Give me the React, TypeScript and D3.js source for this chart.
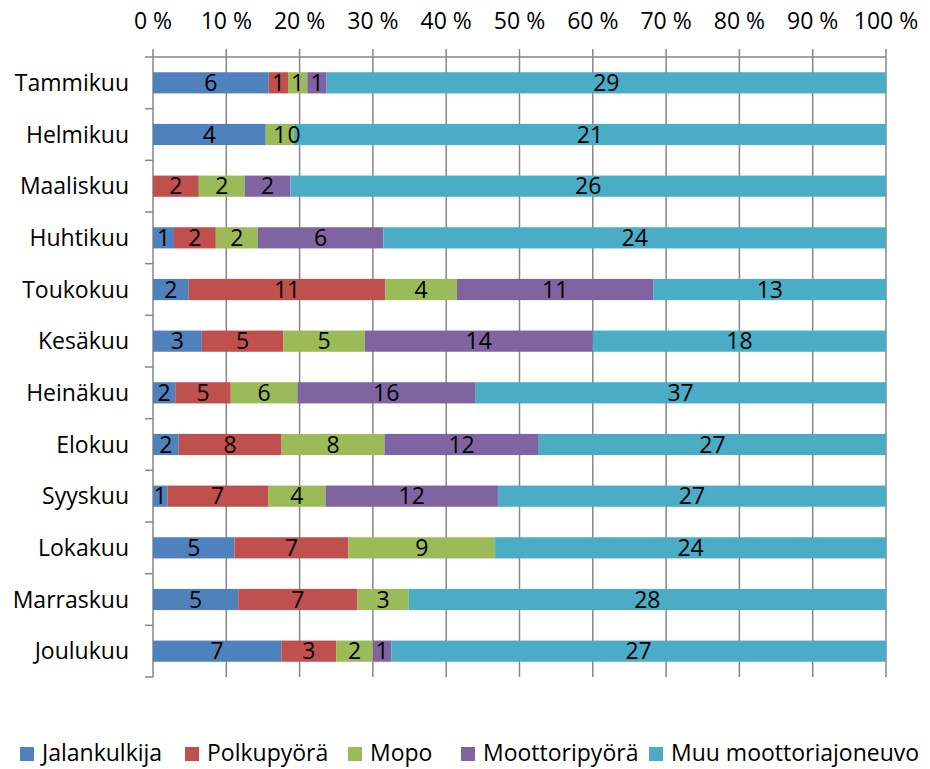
import React from "react";
import * as d3 from "d3";

const width = 930;
const height = 769;

const months = [
  "Tammikuu", "Helmikuu", "Maaliskuu", "Huhtikuu", "Toukokuu", "Kesäkuu",
  "Heinäkuu", "Elokuu", "Syyskuu", "Lokakuu", "Marraskuu", "Joulukuu",
];
const seriesNames = ["Jalankulkija", "Polkupyörä", "Mopo", "Moottoripyörä", "Muu moottoriajoneuvo"];
const colors = ["#4F81BD", "#C0504D", "#9BBB59", "#8064A2", "#4BACC6"];

// null = no value (no label), 0 = shown as label
const jalankulkija = [6, 4, null, 1, 2, 3, 2, 2, 1, 5, 5, 7];
const polkupyora = [1, null, 2, 2, 11, 5, 5, 8, 7, 7, 7, 3];
const mopo = [1, 1, 2, 2, 4, 5, 6, 8, 4, 9, 3, 2];
const moottoripyora = [1, 0, 2, 6, 11, 14, 16, 12, 12, null, null, 1];
const muu = [29, 21, 26, 24, 13, 18, 37, 27, 27, 24, 28, 27];
const ticks = [0, 10, 20, 30, 40, 50, 60, 70, 80, 90, 100];

const series = [jalankulkija, polkupyora, mopo, moottoripyora, muu];
const font = "'Open Sans', sans-serif";
const fs = 23;

const margin = { top: 57, right: 44, bottom: 92, left: 153 };

export default function App() {
  const innerW = width - margin.left - margin.right;
  const innerH = height - margin.top - margin.bottom;
  const x = d3.scaleLinear().domain([0, 100]).range([0, innerW]);
  const y = d3.scaleBand().domain(months).range([0, innerH]).paddingInner(0.59).paddingOuter(0.295);
  const band = d3.scaleBand().domain(months).range([0, innerH]);

  const rows = months.map((m, i) => {
    const vals = series.map((s) => s[i]);
    const total = d3.sum(vals, (v) => v ?? 0);
    let acc = 0;
    return vals.map((v, k) => {
      const x0 = (acc / total) * 100;
      acc += v ?? 0;
      const x1 = (acc / total) * 100;
      return { month: m, k, v, x0, x1 };
    });
  });

  const legendX = [20, 185, 348, 461, 649];

  return (
    <svg width={width} height={height} style={{ position: "absolute", left: 0, top: 0 }}>
      <rect width={width} height={height} fill="#fff" />
      <g transform={`translate(${margin.left},${margin.top})`}>
        {ticks.map((t) => (
          <g key={t}>
            <line x1={x(t)} x2={x(t)} y1={-8} y2={innerH} stroke="#868686" strokeWidth={1.5} />
            <text x={x(t)} y={-28} textAnchor="middle" fontFamily={font} fontSize={fs}>
              {t} %
            </text>
          </g>
        ))}
        <line x1={-8} x2={innerW} y1={0} y2={0} stroke="#868686" strokeWidth={1.5} />
        {months.map((m) => (
          <line key={m} x1={-8} x2={0} y1={band(m)! + band.bandwidth()} y2={band(m)! + band.bandwidth()} stroke="#868686" strokeWidth={1.5} />
        ))}
        {rows.map((r) =>
          r.map((d) =>
            d.v ? (
              <rect key={d.month + d.k} x={x(d.x0)} y={y(d.month)} width={x(d.x1) - x(d.x0)} height={y.bandwidth()} fill={colors[d.k]} />
            ) : null
          )
        )}
        {rows.map((r) =>
          r.map((d) =>
            d.v !== null ? (
              <text key={"t" + d.month + d.k} x={(x(d.x0) + x(d.x1)) / 2} y={y(d.month)! + y.bandwidth() / 2} dy="0.36em" textAnchor="middle" fontFamily={font} fontSize={fs}>
                {d.v}
              </text>
            ) : null
          )
        )}
        {months.map((m) => (
          <text key={"l" + m} x={-24} y={band(m)! + band.bandwidth() / 2} dy="0.36em" textAnchor="end" fontFamily={font} fontSize={fs}>
            {m}
          </text>
        ))}
      </g>
      {seriesNames.map((s, k) => (
        <g key={s} transform={`translate(${legendX[k]},747)`}>
          <rect x={0} y={0} width={14} height={14} fill={colors[k]} />
          <text x={22} y={6} dy="0.36em" fontFamily={font} fontSize={fs}>
            {s}
          </text>
        </g>
      ))}
    </svg>
  );
}
